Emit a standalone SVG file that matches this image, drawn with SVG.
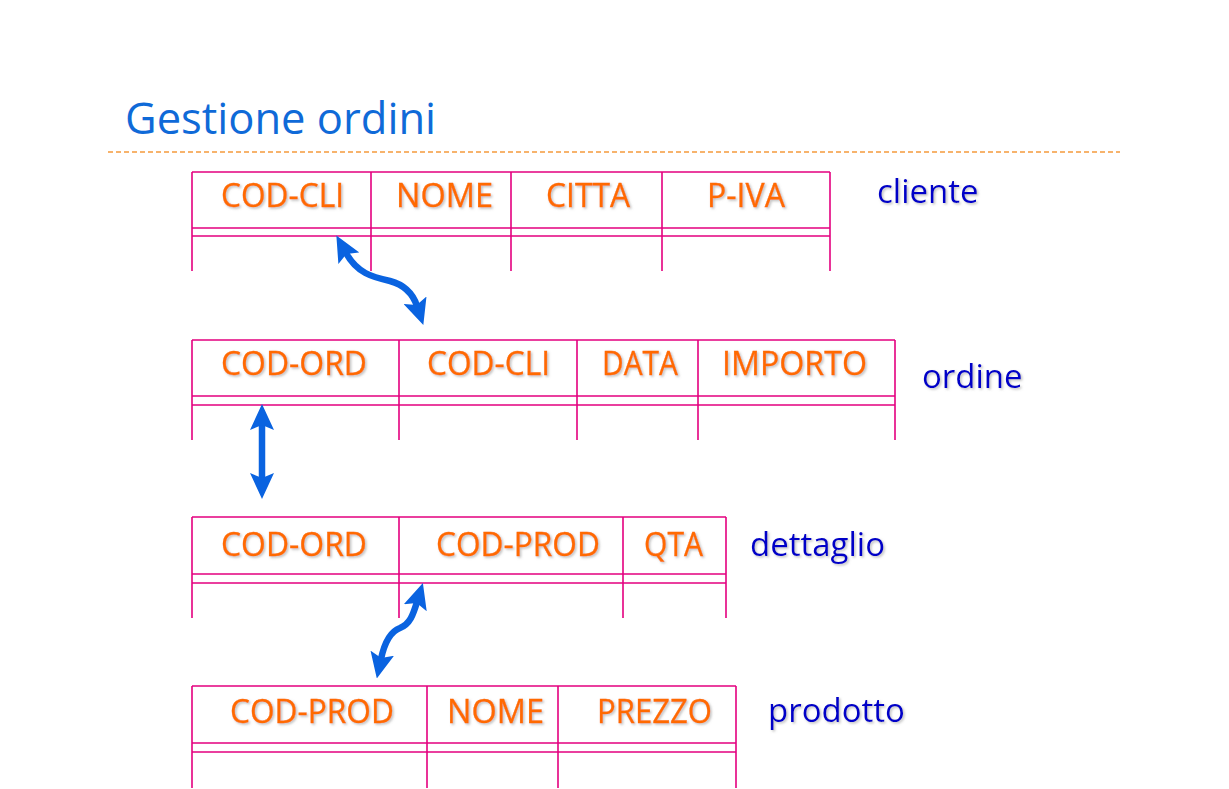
<svg xmlns="http://www.w3.org/2000/svg" width="1229" height="789" viewBox="0 0 1229 789">
<defs>
<style>
.tl{stroke:#e4007f;stroke-width:1.6;fill:none}
.h{font-family:"Open Sans","Liberation Sans",sans-serif;font-size:33.5px;fill:#ff6a00;stroke:#ff6a00;stroke-width:0.35;text-anchor:middle;filter:url(#sh)}
.lab{font-family:"Open Sans","Liberation Sans",sans-serif;font-size:33px;fill:#0000c8;filter:url(#sh)}
.title{font-family:"Open Sans","Liberation Sans",sans-serif;font-size:43.5px;fill:#0f6ad8}
.arr{stroke:#0a63e0;stroke-width:6.5;fill:none;marker-start:url(#ah);marker-end:url(#ah)}
</style>
<filter id="sh" x="-10%" y="-20%" width="130%" height="150%">
<feDropShadow dx="1.5" dy="1.5" stdDeviation="1" flood-color="#808080" flood-opacity="0.5"/>
</filter>
<marker id="ah" markerUnits="userSpaceOnUse" viewBox="0 0 26 24" markerWidth="26" markerHeight="24" refX="6" refY="12" orient="auto-start-reverse">
<path d="M0,0 L26,12 L0,24 L5,12 z" fill="#0a63e0"/>
</marker>
</defs>
<rect width="1229" height="789" fill="#ffffff"/>
<text class="title" x="125" y="134">Gestione ordini</text>
<line x1="108" y1="152" x2="1120" y2="152" stroke="#f59a3c" stroke-width="1.4" stroke-dasharray="5,3"/>

<g id="cliente">
<path class="tl" d="M192,172 H830 M192,228 H830 M192,236 H830 M192,172 V271 M371,172 V271 M511,172 V271 M662,172 V271 M830,172 V271"/>
<text class="h" x="282.5" y="206.5" textLength="123" lengthAdjust="spacingAndGlyphs">COD-CLI</text>
<text class="h" x="444.5" y="206.5" textLength="97" lengthAdjust="spacingAndGlyphs">NOME</text>
<text class="h" x="588" y="206.5" textLength="84" lengthAdjust="spacingAndGlyphs">CITTA</text>
<text class="h" x="746" y="206.5" textLength="78" lengthAdjust="spacingAndGlyphs">P-IVA</text>
<text class="lab" x="877" y="203">cliente</text>
</g>

<g id="ordine">
<path class="tl" d="M192,340 H895 M192,396 H895 M192,405 H895 M192,340 V440 M399,340 V440 M577,340 V440 M698,340 V440 M895,340 V440"/>
<text class="h" x="294" y="375" textLength="146" lengthAdjust="spacingAndGlyphs">COD-ORD</text>
<text class="h" x="488.5" y="375" textLength="123" lengthAdjust="spacingAndGlyphs">COD-CLI</text>
<text class="h" x="640" y="375" textLength="76" lengthAdjust="spacingAndGlyphs">DATA</text>
<text class="h" x="794.5" y="375" textLength="145" lengthAdjust="spacingAndGlyphs">IMPORTO</text>
<text class="lab" x="922" y="388">ordine</text>
</g>

<g id="dettaglio">
<path class="tl" d="M192,517 H726 M192,574 H726 M192,583 H726 M192,517 V618 M399,517 V618 M623,517 V618 M726,517 V618"/>
<text class="h" x="294" y="555.5" textLength="146" lengthAdjust="spacingAndGlyphs">COD-ORD</text>
<text class="h" x="518" y="555.5" textLength="164" lengthAdjust="spacingAndGlyphs">COD-PROD</text>
<text class="h" x="673.5" y="555.5" textLength="59" lengthAdjust="spacingAndGlyphs">QTA</text>
<text class="lab" x="750" y="556">dettaglio</text>
</g>

<g id="prodotto">
<path class="tl" d="M192,686 H736 M192,743 H736 M192,752 H736 M192,686 V788 M427,686 V788 M558,686 V788 M736,686 V788"/>
<text class="h" x="312" y="722.5" textLength="164" lengthAdjust="spacingAndGlyphs">COD-PROD</text>
<text class="h" x="495.5" y="722.5" textLength="97" lengthAdjust="spacingAndGlyphs">NOME</text>
<text class="h" x="654.5" y="722.5" textLength="115" lengthAdjust="spacingAndGlyphs">PREZZO</text>
<text class="lab" x="768" y="722">prodotto</text>
</g>

<g id="connectors">
<path class="arr" d="M346,253 C357,273 372,277 390,281 C405,285 413,294 417,306"/>
<path class="arr" d="M262,424 L262,479"/>
<path class="arr" d="M417,602 C413,615 410,624 400,628 C389,632 384,645 381,659"/>
</g>
</svg>
